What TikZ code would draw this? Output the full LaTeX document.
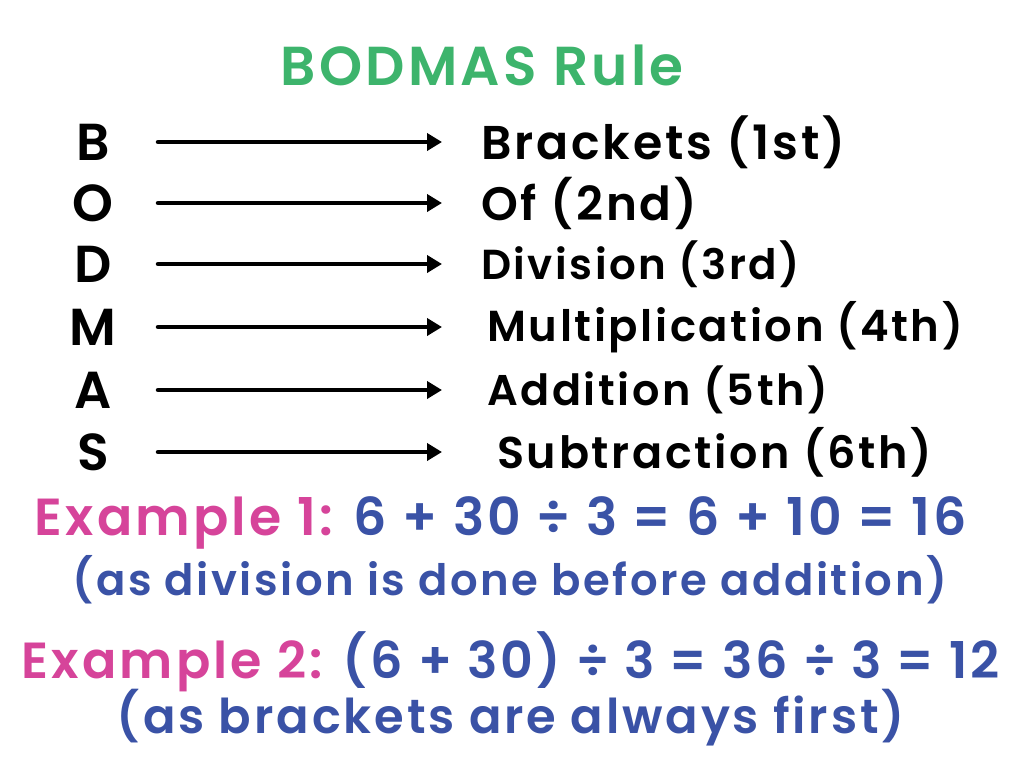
\documentclass[tikz,border=0pt]{standalone}
\usepackage{fontspec}
\setmainfont{Poppins}[LetterSpace=6, BoldFont={Poppins SemiBold}]
\usetikzlibrary{arrows.meta}
\definecolor{titlegreen}{HTML}{3DB46C}
\definecolor{expink}{HTML}{D6449A}
\definecolor{exblue}{HTML}{3A52A6}
\newcommand{\fitw}[2]{\resizebox{#1pt}{!}{#2}}
\begin{document}
\begin{tikzpicture}[x=1pt,y=-1pt,
  letter/.style={font=\fontsize{52}{56}\selectfont\bfseries, inner sep=0pt},
  meaning/.style={font=\fontsize{44}{48}\selectfont\bfseries, anchor=west, inner sep=0pt},
  maparrow/.style={line width=4.5pt, line cap=round, -{Triangle[length=15pt,width=17pt]}},
  exline/.style={font=\fontsize{40}{44}\selectfont\bfseries, inner sep=0pt, text=exblue}]
\useasboundingbox[fill=white] (0,0) rectangle (1024,768);
\node[font=\fontsize{50}{56}\selectfont\bfseries, text=titlegreen, inner sep=0pt] (title) at (482,65) {\fitw{403}{BODMAS Rule}};
\foreach \L/\T/\y/\tx/\w [count=\i] in {B/Brackets (1st)/142/481/364, O/Of (2nd)/203/481/216, D/Division (3rd)/264/481/319, M/Multiplication (4th)/327/487/476, A/Addition (5th)/390/487/341, S/Subtraction (6th)/452/497/435}{
  \node[letter] (l\i) at (93,\y) {\L};
  \node[meaning] (m\i) at (\tx,\y) {\fitw{\w}{\T}};
  \coordinate (s\i) at (158,\y);
  \coordinate (e\i) at (442,\y);
  \draw[maparrow] (s\i) -- (e\i);
}
\node[exline] (ex1) at (501,523) {\fitw{932}{\textcolor{expink}{Example 1:} 6 + 30 ÷ 3 = 6 + 10 = 16}};
\node[exline] (ex1b) at (510,580) {\fitw{875}{(as division is done before addition)}};
\node[exline] (ex2) at (511,662) {\fitw{978}{\textcolor{expink}{Example 2:} (6 + 30) ÷ 3 = 36 ÷ 3 = 12}};
\node[exline] (ex2b) at (511,718) {\fitw{788}{(as brackets are always first)}};
\end{tikzpicture}
\end{document}
